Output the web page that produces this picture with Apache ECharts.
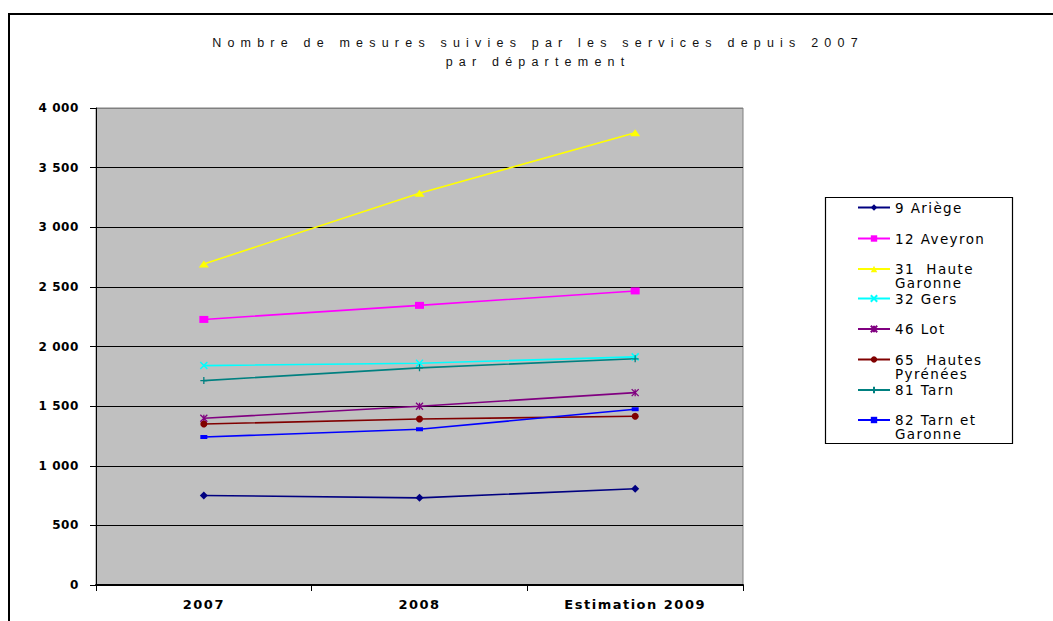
<!DOCTYPE html>
<html>
<head>
<meta charset="utf-8">
<script src="https://cdn.jsdelivr.net/npm/echarts@6/dist/echarts.min.js"></script>
<style>
html, body { margin: 0; padding: 0; background: #fff; }
#chart { width: 1053px; height: 621px; }
svg text { white-space: pre; }
text[style*="zzTitle"] { letter-spacing: 6.2px; }
text[style*="zzAxX"] { letter-spacing: 1.5px; }
text[style*="zzAxY"] { letter-spacing: 0.6px; }
text[style*="zzLeg"] { letter-spacing: 1.4px; }
</style>
</head>
<body>
<div id="chart"></div>
<script>
// ---- data ----
const categories = ['2007', '2008', 'Estimation 2009'];
const ariege = [751, 731, 807];
const aveyron = [2227, 2345, 2466];
const hauteGaronne = [2692, 3285, 3793];
const gers = [1840, 1860, 1913];
const lot = [1398, 1499, 1613];
const hautesPyrenees = [1350, 1392, 1415];
const tarn = [1714, 1821, 1897];
const tarnGaronne = [1241, 1306, 1474];

const seriesNames = ['9 Ariège', '12 Aveyron', '31  Haute Garonne', '32 Gers', '46 Lot', '65  Hautes Pyrénées', '81 Tarn', '82 Tarn et Garonne'];
const legendLabels = ['9 Ariège', '12 Aveyron', '31  Haute\nGaronne', '32 Gers', '46 Lot', '65  Hautes\nPyrénées', '81 Tarn', '82 Tarn et\nGaronne'];
const yTicks = [0, 500, 1000, 1500, 2000, 2500, 3000, 3500, 4000];
const yTickLabels = ['0', '500', '1 000', '1 500', '2 000', '2 500', '3 000', '3 500', '4 000'];
const titleLines = ['Nombre de mesures suivies par les services depuis 2007', 'par département'];

const seriesValues = [ariege, aveyron, hauteGaronne, gers, lot, hautesPyrenees, tarn, tarnGaronne];

// ---- styles ----
const colors = ['#000080', '#FF00FF', '#FFFF00', '#00FFFF', '#800080', '#800000', '#008080', '#0000FF'];
const PATH_X = 'path://M0,0L10,10M10,0L0,10';
const PATH_STAR = 'path://M0,0L10,10M10,0L0,10M5,0L5,10';
const PATH_PLUS = 'path://M5,0L5,10M0,5L10,5';
const markers = [
  { symbol: 'diamond', size: 8, stroke: 0 },
  { symbol: 'rect', size: [9, 7], stroke: 0 },
  { symbol: 'triangle', size: [10, 7], stroke: 0 },
  { symbol: PATH_X, size: 7, stroke: 1.5 },
  { symbol: PATH_STAR, size: 7, stroke: 1.3 },
  { symbol: 'circle', size: 7, stroke: 0 },
  { symbol: PATH_PLUS, size: 7, stroke: 1.3 },
  { symbol: 'rect', size: [7, 4], stroke: 0 }
];
const legendCenters = [207.5, 238.5, 269, 298.5, 329, 359.5, 390, 420];

const chart = echarts.init(document.getElementById('chart'), null, { renderer: 'svg' });

const series = seriesNames.map((name, i) => ({
  name: name,
  type: 'line',
  data: seriesValues[i],
  color: colors[i],
  symbol: markers[i].symbol,
  symbolSize: markers[i].size,
  showAllSymbol: true,
  lineStyle: { color: colors[i], width: 1.6 },
  itemStyle: { color: colors[i], borderColor: colors[i], borderWidth: markers[i].stroke },
  emphasis: { disabled: true },
  animation: false
}));

const legends = seriesNames.map((name, i) => {
  const multi = legendLabels[i].indexOf('\n') >= 0;
  return {
    data: [name],
    left: 857,
    top: legendCenters[i] - (multi ? 21 : 7),
    padding: 0,
    itemWidth: 32,
    itemHeight: 8,
    itemGap: 0,
    selectedMode: false,
    formatter: () => (multi ? '\n' : '') + legendLabels[i],
    textStyle: {
      fontFamily: "zzLeg, 'DejaVu Sans', sans-serif",
      fontSize: 13.5,
      color: '#000',
      lineHeight: 14
    }
  };
});

const splitColors = yTicks.map((v, i) => (i === yTicks.length - 1 ? '#808080' : '#000000'));

chart.setOption({
  animation: false,
  backgroundColor: '#ffffff',
  title: {
    text: titleLines.join('\n'),
    left: 538,
    top: 33,
    textAlign: 'center',
    padding: 0,
    textStyle: {
      fontFamily: "zzTitle, 'Liberation Sans', Arial, sans-serif",
      fontSize: 12.5,
      fontWeight: 'normal',
      color: '#111',
      lineHeight: 19
    }
  },
  graphic: [
    { type: 'rect', z: -10, silent: true, shape: { x: 9, y: 14, width: 1100, height: 700 }, style: { fill: 'none', stroke: '#000', lineWidth: 2 } },
    { type: 'rect', z: -5, silent: true, shape: { x: 825.5, y: 197.5, width: 187, height: 246 }, style: { fill: '#fff', stroke: '#000', lineWidth: 1.2 } }
  ],
  legend: legends,
  grid: {
    left: 96, right: 310, top: 108, bottom: 36,
    show: true, backgroundColor: '#C0C0C0', borderColor: '#808080', borderWidth: 1,
    containLabel: false
  },
  xAxis: {
    type: 'category',
    data: categories,
    boundaryGap: true,
    axisLine: { show: true, lineStyle: { color: '#000', width: 2 } },
    axisTick: { show: true, length: 6, alignWithLabel: false, interval: 0, lineStyle: { color: '#000', width: 1 } },
    axisLabel: {
      interval: 0,
      margin: 13,
      color: '#000',
      fontFamily: "zzAxX, 'DejaVu Sans', sans-serif",
      fontWeight: 'bold',
      fontSize: 13
    },
    splitLine: { show: false }
  },
  yAxis: {
    type: 'value',
    min: 0,
    max: 4000,
    interval: 500,
    axisLine: { show: true, lineStyle: { color: '#000', width: 1 } },
    axisTick: { show: true, length: 6, lineStyle: { color: '#000', width: 1 } },
    axisLabel: {
      margin: 17,
      color: '#000',
      fontFamily: "zzAxY, 'DejaVu Sans', sans-serif",
      fontWeight: 'bold',
      fontSize: 12,
      formatter: (v) => {
        const k = yTicks.indexOf(v);
        return k >= 0 ? yTickLabels[k] : '';
      }
    },
    splitLine: { show: true, lineStyle: { color: splitColors, width: 1 } }
  },
  series: series
});
</script>
</body>
</html>
